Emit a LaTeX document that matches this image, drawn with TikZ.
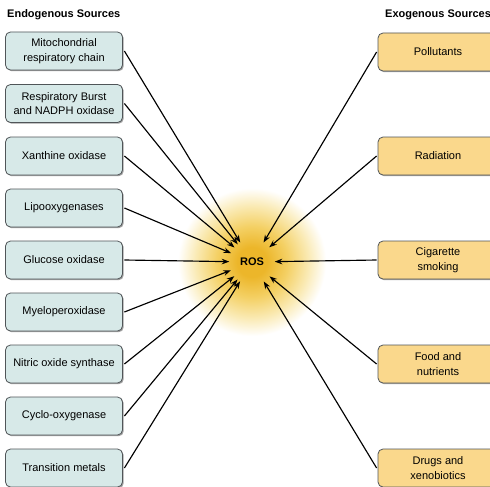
\documentclass[tikz,border=0pt]{standalone}
\usepackage{fontspec}
\setmainfont{Liberation Sans}
\usetikzlibrary{arrows.meta,shadows}
\definecolor{leftfill}{RGB}{215,233,232}
\definecolor{rightfill}{RGB}{250,216,140}
\definecolor{boxline}{RGB}{80,85,88}
\definecolor{glowc}{RGB}{236,182,42}
\definecolor{glowm}{RGB}{244,208,100}
\definecolor{glowo}{RGB}{250,234,180}
\pgfdeclareradialshading{rosglow}{\pgfpoint{0bp}{0bp}}{color(0bp)=(glowc); color(5bp)=(glowc); color(12bp)=(glowm); color(19bp)=(glowo); color(25bp)=(white); color(50bp)=(white)}
\tikzset{
  srcbox/.style={draw=boxline, line width=0.8pt, rounded corners=5pt,
    minimum width=117pt, minimum height=38pt, inner sep=1pt,
    align=center, font=\fontsize{11}{14.5}\selectfont,
    drop shadow={shadow xshift=1.2pt, shadow yshift=-1.2pt, fill=black!45, opacity=0.8}},
  endo/.style={srcbox, fill=leftfill},
  exo/.style={srcbox, fill=rightfill, minimum width=120pt},
  heading/.style={anchor=west, font=\fontsize{11}{13}\selectfont\bfseries, inner sep=0pt},
  arr/.style={line width=1.15pt, -{Stealth[length=7.5pt,width=5.5pt]}},
}
\begin{document}
\begin{tikzpicture}[x=1pt,y=-1pt]
\clip (0,0) rectangle (490,487);
\fill[white] (0,0) rectangle (490,487);
\shade[shading=rosglow] (252,262) circle (74);
\node[heading] (hl) at (7,15) {Endogenous Sources};
\node[heading] (hr) at (385,15) {Exogenous Sources};
\node[circle, minimum size=45pt, inner sep=0pt, font=\fontsize{11}{13}\selectfont\bfseries] (ros) at (252,262) {ROS};
\node[endo] (e1) at (64,51) {Mitochondrial\\respiratory chain};
\node[endo] (e2) at (64,103.5) {Respiratory Burst\\and NADPH oxidase};
\node[endo] (e3) at (64,156) {Xanthine oxidase};
\node[endo] (e4) at (64,208) {Lipooxygenases};
\node[endo] (e5) at (64,260) {Glucose oxidase};
\node[endo] (e6) at (64,312) {Myeloperoxidase};
\node[endo] (e7) at (64,364) {Nitric oxide synthase};
\node[endo] (e8) at (64,416) {Cyclo-oxygenase};
\node[endo] (e9) at (64,468) {Transition metals};
\node[exo] (x1) at (438,52) {Pollutants};
\node[exo] (x2) at (438,156) {Radiation};
\node[exo] (x3) at (438,260) {Cigarette\\smoking};
\node[exo] (x4) at (438,364) {Food and\\nutrients};
\node[exo] (x5) at (438,468) {Drugs and\\xenobiotics};
\foreach \n in {e1,e2,e3,e4,e5,e6,e7,e8,e9}{
  \draw[arr] ([xshift=1.5pt]\n.east) -- (ros);
}
\foreach \n in {x1,x2,x3,x4,x5}{
  \draw[arr] ([xshift=-1pt]\n.west) -- (ros);
}
\end{tikzpicture}
\end{document}
